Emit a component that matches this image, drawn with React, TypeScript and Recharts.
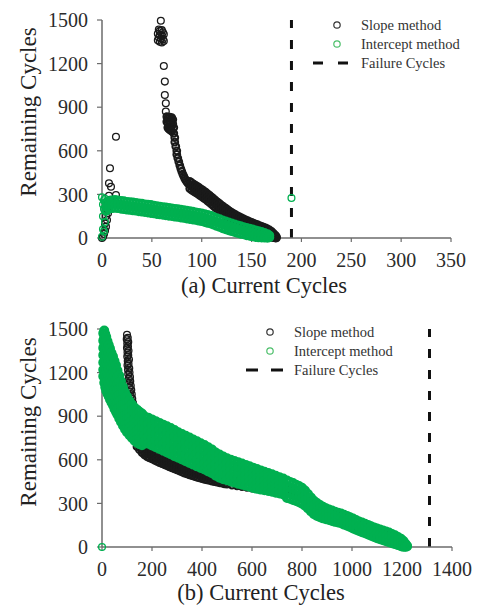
import React from 'react';
import { ScatterChart, Scatter, XAxis, YAxis, ReferenceLine, Legend } from 'recharts';

// every row is [currentCycle, remaining, remaining, ...]
const yTicks = [0, 300, 600, 900, 1200, 1500];
const xTicksA = [0, 50, 100, 150, 200, 250, 300, 350];
const xTicksB = [0, 200, 400, 600, 800, 1000, 1200, 1400];
const failureA = 190;
const failureB = 1310;

// (a) slope method: isolated points, then the dense tail
const slopeAScattered: number[][] = [
    [0, 0], [1, 9], [2, 28], [3, 50], [4, 78], [3, 100], [5, 124], [4, 150], [6, 170], [5, 193],
    [6, 235], [8, 262], [7, 290], [9, 353], [7, 376], [8, 480], [14, 296], [12, 240], [14, 697],
    [59, 1495], [57, 1435], [58, 1425], [60, 1430], [61, 1415], [56, 1405], [58, 1398], [60, 1392],
    [62, 1402], [57, 1380], [59, 1372], [61, 1368], [56, 1360], [58, 1350], [60, 1345], [62, 1355],
    [62, 1184], [63, 1076], [63, 984], [64, 927], [64, 870],
];
const slopeADense: number[][] = [
    [65, 835], [66, 825], [67, 830], [68, 832], [69, 820], [70, 828], [71, 815], [65, 800], [66, 790],
    [67, 805], [68, 780], [69, 795], [70, 770], [71, 785], [72, 760], [66, 760], [67, 750], [68, 745],
    [69, 740], [70, 735], [72, 720],
    [73, 690], [73, 660], [74, 630], [75, 600], [75, 575], [76, 550], [77, 525], [78, 500], [79, 478],
    [80, 458], [81, 440], [82, 425], [83, 410], [84, 398], [85, 388], [86, 378],
    [88, 390, 365, 340], [90, 380, 355, 330], [92, 370, 345, 320], [94, 362, 337, 312],
    [96, 353, 328, 303], [98, 344, 319, 294], [100, 335, 310, 285], [102, 325, 300, 275],
    [104, 315, 290, 265], [106, 304, 279, 254], [108, 293, 268, 243], [110, 281, 256, 231],
    [112, 270, 245, 220], [114, 258, 233, 208], [116, 247, 222, 197], [118, 236, 211, 186],
    [120, 225, 200, 175], [122, 215, 190, 165], [124, 205, 180, 155], [126, 195, 170, 145],
    [128, 185, 160, 135], [130, 176, 151, 126], [132, 168, 143, 118], [134, 160, 135, 110],
    [136, 152, 127, 102], [138, 145, 120, 95], [140, 138, 113, 88], [142, 131, 106, 81],
    [144, 125, 100, 75], [146, 119, 94, 69], [148, 113, 88, 63], [150, 107, 82, 57],
    [152, 102, 77, 52], [154, 96, 71, 46], [156, 91, 66, 41], [158, 85, 60, 35],
    [160, 80, 55, 30], [162, 74, 49, 24], [164, 69, 44, 19], [166, 62, 38, 14],
    [168, 55, 32, 9], [170, 45, 25, 5], [172, 32, 15, 2], [174, 18, 6, 0], [175, 8, 1],
];

// (a) intercept method
const interceptAScattered: number[][] = [
    [0, 9], [1, 60], [1, 150], [2, 260], [0, 280], [2, 200], [3, 110], [1, 230], [3, 270], [2, 45],
    [190, 275],
];
const interceptADense: number[][] = [
    [4, 245, 215, 185], [7, 255, 226, 198], [10, 260, 232, 204], [13, 264, 234, 206],
    [16, 260, 231, 204], [19, 257, 229, 200], [22, 254, 225, 197], [25, 250, 222, 194],
    [28, 248, 219, 192], [31, 246, 217, 189], [34, 242, 214, 187], [37, 239, 211, 183],
    [40, 237, 208, 180], [43, 233, 205, 178], [46, 230, 202, 174], [49, 228, 199, 171],
    [52, 223, 195, 168], [55, 221, 192, 164], [58, 217, 189, 161], [61, 214, 186, 159],
    [64, 211, 183, 155], [67, 209, 180, 152], [70, 205, 177, 150], [73, 202, 174, 146],
    [76, 199, 171, 144], [79, 196, 168, 140], [82, 192, 164, 137], [85, 189, 161, 133],
    [88, 186, 157, 129], [91, 182, 154, 126], [94, 178, 150, 123], [97, 174, 146, 118],
    [100, 170, 142, 115], [103, 165, 137, 109], [106, 160, 131, 103], [109, 154, 126, 98],
    [112, 146, 118, 91], [115, 138, 110, 82], [118, 130, 102, 75], [121, 122, 94, 66],
    [124, 115, 87, 59], [127, 108, 80, 52], [130, 101, 73, 46], [133, 94, 67, 40],
    [136, 88, 61, 34], [139, 82, 55, 28], [142, 76, 50, 24], [145, 70, 44, 18],
    [148, 65, 39, 14], [151, 60, 34, 10], [154, 54, 29, 6], [157, 49, 24, 3],
    [160, 43, 19, 2], [163, 36, 14, 1], [166, 28, 9, 0], [168, 18, 4],
];

// (b) slope method
const slopeBScattered: number[][] = [
    [100, 1460], [99, 1430], [103, 1440], [101, 1400], [105, 1410], [100, 1370], [104, 1380],
    [102, 1340], [106, 1350], [101, 1310], [105, 1320], [103, 1280], [108, 1290], [102, 1250],
    [106, 1260], [104, 1220], [109, 1230], [105, 1190], [110, 1200], [107, 1160], [112, 1170],
    [108, 1130], [113, 1140], [110, 1100], [115, 1110], [112, 1070], [117, 1080], [114, 1040],
    [119, 1050], [116, 1010], [121, 1020], [119, 980], [124, 990], [122, 950], [126, 940],
    [125, 900], [128, 880], [127, 850], [130, 820], [132, 790], [135, 770],
];
const slopeBDense: number[][] = [
    [140, 740, 715, 690], [150, 715, 692, 670], [160, 695, 672, 650], [170, 678, 656, 634],
    [180, 665, 643, 621], [190, 655, 634, 614], [200, 646, 626, 606], [210, 637, 617, 597],
    [220, 629, 609, 589], [230, 621, 601, 581], [240, 613, 593, 573], [250, 606, 586, 566],
    [260, 599, 579, 559], [270, 592, 572, 552], [280, 585, 565, 545], [290, 577, 557, 537],
    [300, 570, 550, 530], [310, 563, 543, 523], [320, 556, 536, 516], [330, 549, 529, 509],
    [340, 543, 523, 503], [350, 537, 517, 497], [360, 531, 511, 491], [370, 525, 505, 485],
    [380, 520, 500, 480], [390, 515, 495, 475], [400, 510, 490, 470], [410, 506, 486, 466],
    [420, 502, 482, 462], [430, 498, 478, 458], [440, 494, 474, 454], [450, 490, 470, 450],
    [460, 486, 466, 446], [470, 482, 462, 442], [480, 479, 459, 439], [490, 475, 455, 435],
    [500, 472, 452, 432], [520, 466, 446, 426], [540, 460, 440, 420], [560, 455, 435, 415],
    [580, 450, 430, 410], [600, 445, 425, 405],
    [620, 455, 425], [640, 445, 415], [660, 440, 410], [680, 430, 400], [700, 420, 390],
    [720, 410, 380], [740, 400, 370], [760, 390, 360], [780, 378, 348], [800, 365, 335],
    [820, 345, 315], [840, 320, 292], [860, 285, 255], [880, 262, 232], [900, 245, 215],
    [920, 232, 202], [940, 222, 192], [960, 212, 182], [980, 198, 168], [1000, 185, 155],
    [1020, 170, 140], [1040, 155, 125], [1060, 140, 110], [1080, 125, 95], [1100, 112, 82],
    [1120, 98, 68], [1140, 85, 55], [1160, 70, 40], [1180, 55, 25], [1200, 38, 10], [1210, 22, 2],
];

// (b) intercept method
const interceptBScattered: number[][] = [[0, 0]];
const interceptBDense: number[][] = [
    [5, 1470, 1420, 1370, 1320, 1270, 1220, 1175],
    [9, 1490, 1440, 1385, 1330, 1275, 1220, 1170, 1130],
    [13, 1465, 1410, 1355, 1300, 1245, 1190, 1140, 1100],
    [17, 1445, 1390, 1335, 1280, 1225, 1170, 1120, 1075],
    [22, 1415, 1360, 1305, 1250, 1195, 1145, 1095, 1055],
    [27, 1390, 1335, 1280, 1225, 1175, 1125, 1075, 1035],
    [32, 1365, 1310, 1255, 1205, 1155, 1105, 1060, 1015],
    [38, 1335, 1285, 1235, 1185, 1135, 1085, 1040, 995],
    [44, 1310, 1260, 1210, 1160, 1110, 1060, 1015, 975],
    [50, 1280, 1230, 1180, 1130, 1080, 1035, 990, 950],
    [56, 1250, 1200, 1150, 1100, 1055, 1010, 970, 930],
    [62, 1215, 1170, 1125, 1080, 1035, 990, 950, 910],
    [69, 1180, 1135, 1090, 1045, 1000, 960, 920, 885],
    [76, 1140, 1100, 1055, 1010, 970, 930, 890, 860],
    [84, 1100, 1060, 1020, 980, 940, 900, 865, 835],
    [92, 1065, 1025, 985, 945, 905, 870, 835, 810],
    [100, 1035, 995, 955, 915, 880, 845, 815, 790],
    [110, 1005, 965, 925, 890, 855, 820, 790, 770],
    [120, 980, 940, 900, 865, 830, 800, 770, 750],
    [130, 960, 920, 880, 845, 810, 780, 750, 732],
    [140, 945, 905, 865, 830, 795, 765, 738, 718],
    [150, 930, 890, 852, 815, 782, 752, 725, 708],
    [160, 918, 878, 840, 805, 772, 742, 716, 700],
    [170, 900, 856, 812, 768, 722], [185, 890, 845, 800, 755, 710], [200, 878, 833, 788, 743, 698],
    [215, 866, 821, 776, 731, 686], [230, 854, 809, 764, 719, 674], [245, 842, 797, 752, 707, 662],
    [260, 830, 785, 740, 695, 650], [275, 818, 773, 728, 683, 638], [290, 805, 760, 715, 670, 625],
    [305, 790, 746, 702, 658, 614], [320, 778, 734, 690, 646, 602], [335, 766, 722, 678, 634, 590],
    [350, 754, 710, 666, 622, 578], [365, 739, 696, 653, 610, 567], [380, 727, 684, 641, 598, 555],
    [395, 714, 671, 629, 587, 544], [410, 701, 659, 617, 575, 533], [425, 686, 645, 603, 562, 520],
    [440, 671, 630, 589, 548, 507], [455, 650, 610, 570, 530, 490], [470, 637, 597, 557, 517, 477],
    [485, 623, 584, 545, 506, 467], [500, 611, 573, 535, 497, 459], [515, 601, 564, 526, 488, 451],
    [530, 592, 555, 517, 480, 443], [545, 583, 546, 509, 472, 435], [560, 574, 538, 501, 465, 428],
    [575, 565, 529, 493, 457, 421], [590, 555, 520, 485, 450, 415], [605, 546, 511, 476, 441, 406],
    [620, 536, 502, 468, 434, 400], [635, 527, 494, 461, 428, 395], [650, 518, 486, 454, 422, 390],
    [665, 509, 478, 447, 416, 385], [680, 500, 470, 440, 410, 380], [695, 490, 461, 432, 403, 374],
    [710, 480, 452, 424, 396, 368], [725, 471, 443, 416, 389, 361],
    [740, 458, 418, 378, 338], [752, 448, 409, 371, 332], [764, 440, 401, 363, 324],
    [776, 429, 392, 354, 317], [788, 420, 383, 345, 308], [800, 407, 370, 334, 297],
    [812, 388, 353, 319, 284], [824, 365, 332, 298, 265], [836, 341, 309, 277, 245],
    [848, 318, 287, 257, 226], [860, 302, 273, 243, 214], [872, 289, 261, 233, 205],
    [884, 277, 250, 224, 197], [896, 267, 242, 216, 191], [908, 258, 234, 210, 186],
    [920, 251, 215, 179], [932, 243, 208, 173], [944, 236, 202, 168], [956, 231, 197, 163],
    [968, 222, 188, 154], [980, 214, 180, 146], [992, 205, 171, 137], [1004, 196, 162, 128],
    [1016, 185, 152, 119], [1028, 176, 143, 110], [1040, 168, 135, 102], [1052, 160, 127, 94],
    [1064, 152, 119, 86], [1076, 143, 110, 77], [1088, 135, 102, 69], [1100, 127, 94, 61],
    [1112, 120, 87, 54], [1124, 113, 80, 47], [1136, 106, 73, 40], [1148, 99, 66, 33],
    [1160, 90, 58, 26], [1172, 80, 50, 20], [1184, 69, 41, 13], [1196, 56, 31, 6],
    [1206, 41, 21, 1], [1214, 22, 12, 2], [1220, 8, 3],
];

const toPoints = (rows: number[][]) =>
    rows.flatMap(([x, ...ys]) => ys.map((y) => ({ x, y })));

const FONT = '"Liberation Serif", "Times New Roman", serif';
const BLACK = '#1a1a1a';
const GREEN = '#00b050';
const AXIS = '#6b6b6b';

const ring = (color: string, w: number) => (p: any) =>
    <circle cx={p.cx} cy={p.cy} r={3.4} fill="none" stroke={color} strokeWidth={w} />;

interface LegendLayout {
    left: number;
    top: number;
    dashFrom: number;
    dashTo: number;
    dash: string;
    circleX: number;
    textX: number;
}

function legendContent(l: LegendLayout) {
    const rows = ['Slope method', 'Intercept method', 'Failure Cycles'];
    return () => (
        <svg width={190} height={70} style={{ display: 'block' }}>
            <circle cx={l.circleX} cy={12} r={3.2} fill="none" stroke="#333" strokeWidth={1.2} />
            <circle cx={l.circleX} cy={31} r={3.2} fill="none" stroke="#4cbf6a" strokeWidth={1.2} />
            <line x1={l.dashFrom} x2={l.dashTo} y1={50} y2={50} stroke="#111" strokeWidth={3} strokeDasharray={l.dash} />
            {rows.map((t, i) => (
                <text key={t} x={l.textX} y={16.5 + i * 19} fontFamily={FONT} fontSize={14.5} fill="#333">
                    {t}
                </text>
            ))}
        </svg>
    );
}

interface PanelProps {
    top: number;
    height: number;
    margin: { top: number; right: number; bottom: number; left: number };
    xMax: number;
    xTicks: number[];
    slopeScattered: number[][];
    slopeDense: number[][];
    interceptScattered: number[][];
    interceptDense: number[][];
    greenWidth: number;
    failure: number;
    title: string;
    titleX: number;
    titleY: number;
    yTitleY: number;
    legend: LegendLayout;
}

function Panel(p: PanelProps) {
    const tickStyle = { fontFamily: FONT, fontSize: 20, fill: '#2b2b2b' };
    return (
        <div style={{ position: 'absolute', left: 0, top: p.top }}>
            <ScatterChart width={486} height={p.height} margin={p.margin}>
                <XAxis
                    type="number"
                    dataKey="x"
                    domain={[0, p.xMax]}
                    ticks={p.xTicks}
                    height={40}
                    tickSize={4}
                    tickMargin={11}
                    tick={tickStyle}
                    axisLine={{ stroke: AXIS, strokeWidth: 1.5 }}
                    tickLine={{ stroke: AXIS, strokeWidth: 1.2 }}
                    label={() => (
                        <text x={p.titleX} y={p.titleY} textAnchor="middle" fontFamily={FONT} fontSize={22.5} fill="#222">
                            {p.title}
                        </text>
                    )}
                />
                <YAxis
                    type="number"
                    dataKey="y"
                    domain={[0, 1500]}
                    ticks={yTicks}
                    width={102}
                    tickSize={5}
                    tickMargin={9}
                    tick={tickStyle}
                    axisLine={{ stroke: AXIS, strokeWidth: 1.5 }}
                    tickLine={{ stroke: AXIS, strokeWidth: 1.2 }}
                    label={() => (
                        <text
                            x={28}
                            y={p.yTitleY}
                            transform={`rotate(-90 28 ${p.yTitleY})`}
                            textAnchor="middle"
                            dominantBaseline="central"
                            fontFamily={FONT}
                            fontSize={23}
                            fill="#222"
                        >
                            Remaining Cycles
                        </text>
                    )}
                />
                <Scatter data={toPoints(p.slopeScattered)} shape={ring(BLACK, 1.3)} isAnimationActive={false} />
                <Scatter data={toPoints(p.slopeDense)} shape={ring(BLACK, 2)} isAnimationActive={false} />
                <Scatter data={toPoints(p.interceptScattered)} shape={ring(GREEN, 1.3)} isAnimationActive={false} />
                <Scatter data={toPoints(p.interceptDense)} shape={ring(GREEN, p.greenWidth)} isAnimationActive={false} />
                <ReferenceLine x={p.failure} stroke="#111" strokeWidth={3} strokeDasharray="9 12" />
                <Legend
                    layout="vertical"
                    align="center"
                    verticalAlign="middle"
                    content={legendContent(p.legend)}
                    wrapperStyle={{ position: 'absolute', left: p.legend.left, top: p.legend.top, width: 190, height: 70 }}
                />
            </ScatterChart>
        </div>
    );
}

export default function App() {
    return (
        <div style={{ position: 'absolute', left: 0, top: 0, width: 486, height: 605, background: '#fff' }}>
            <Panel
                top={0}
                height={300}
                margin={{ top: 20, right: 35, bottom: 22, left: 0 }}
                xMax={350}
                xTicks={xTicksA}
                slopeScattered={slopeAScattered}
                slopeDense={slopeADense}
                interceptScattered={interceptAScattered}
                interceptDense={interceptADense}
                greenWidth={2.7}
                failure={failureA}
                title="(a) Current Cycles"
                titleX={264}
                titleY={293}
                yTitleY={112}
                legend={{ left: 296, top: 13, circleX: 41, textX: 65, dashFrom: 17, dashTo: 54, dash: '10 15' }}
            />
            <Panel
                top={300}
                height={305}
                margin={{ top: 29, right: 34, bottom: 18, left: 0 }}
                xMax={1400}
                xTicks={xTicksB}
                slopeScattered={slopeBScattered}
                slopeDense={slopeBDense}
                interceptScattered={interceptBScattered}
                interceptDense={interceptBDense}
                greenWidth={3.2}
                failure={failureB}
                title="(b) Current Cycles"
                titleX={261}
                titleY={300}
                yTitleY={122}
                legend={{ left: 229, top: 20, circleX: 41, textX: 65, dashFrom: 17, dashTo: 54, dash: '12 13' }}
            />
        </div>
    );
}
